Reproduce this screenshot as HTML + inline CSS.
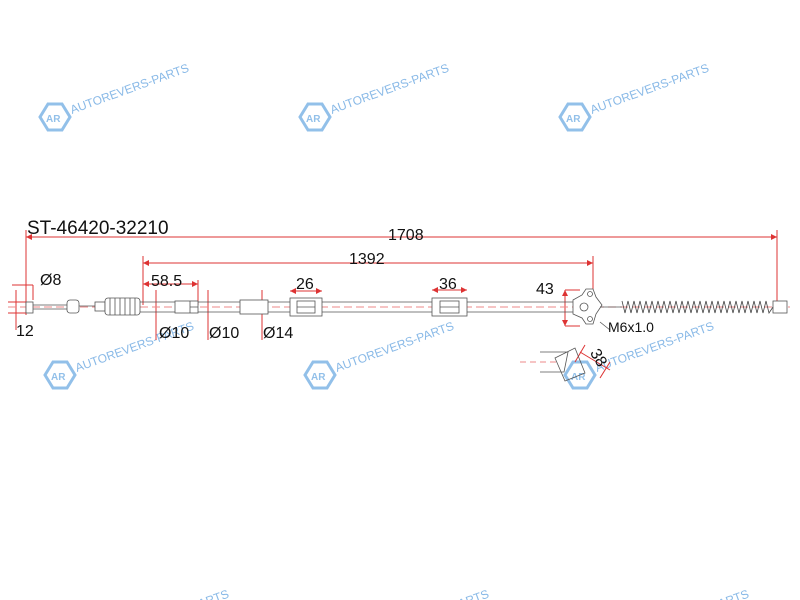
<!DOCTYPE html>
<html><head><style>html,body{margin:0;padding:0;background:#fff;overflow:hidden;width:800px;height:600px}svg{display:block}</style></head>
<body>
<svg width="800" height="600" viewBox="0 0 800 600" xmlns="http://www.w3.org/2000/svg" font-family="Liberation Sans, sans-serif">
<defs>
<clipPath id="cp"><rect x="0" y="0" width="800" height="600"/></clipPath>
<g id="wm">
<polygon points="8,0 22,0 30,13 22,26 8,26 0,13" fill="none" stroke="#7fb5e6" stroke-width="3"/>
<text x="6" y="18" font-size="10" fill="#7fb5e6" font-weight="bold">AR</text>
<text x="32" y="10" font-size="12" fill="#74ade3" transform="rotate(-20 32 10)">AUTOREVERS-PARTS</text>
</g>
</defs>
<g clip-path="url(#cp)">
<g opacity="0.85">
<use href="#wm" x="40" y="104"/><use href="#wm" x="300" y="104"/><use href="#wm" x="560" y="104"/>
<use href="#wm" x="45" y="362"/><use href="#wm" x="305" y="362"/><use href="#wm" x="565" y="362"/>
<use href="#wm" x="80" y="630"/><use href="#wm" x="340" y="630"/><use href="#wm" x="600" y="630"/>
</g>
<text x="27" y="234" font-size="19" fill="#111">ST-46420-32210</text>
<g stroke="#d33" stroke-width="1" fill="none">
<line x1="26" y1="237" x2="777" y2="237"/><line x1="26" y1="230" x2="26" y2="315"/><line x1="777" y1="230" x2="777" y2="305"/>
<line x1="143" y1="263" x2="593" y2="263"/><line x1="143" y1="256" x2="143" y2="305"/><line x1="593" y1="256" x2="593" y2="295"/>
<line x1="143" y1="284" x2="198" y2="284"/><line x1="198" y1="280" x2="198" y2="305"/>
<line x1="290" y1="291" x2="322" y2="291"/><line x1="432" y1="290" x2="467" y2="290"/>
<line x1="565" y1="290" x2="565" y2="326"/><line x1="565" y1="290" x2="580" y2="290"/><line x1="565" y1="326" x2="580" y2="326"/>
<line x1="12" y1="285" x2="33" y2="285"/><line x1="33" y1="285" x2="33" y2="300"/>
<line x1="16" y1="290" x2="16" y2="330"/><line x1="8" y1="302" x2="26" y2="302"/><line x1="8" y1="313" x2="26" y2="313"/>
<line x1="156" y1="290" x2="156" y2="340"/><line x1="208" y1="290" x2="208" y2="340"/><line x1="262" y1="290" x2="262" y2="340"/>
<line x1="8" y1="307" x2="790" y2="307" stroke-dasharray="8,4" stroke="#e88"/>
<line x1="520" y1="362" x2="560" y2="362" stroke-dasharray="6,4" stroke="#e88"/>
<line x1="580" y1="352" x2="610" y2="370"/><line x1="575" y1="362" x2="585" y2="345"/><line x1="600" y1="378" x2="610" y2="362"/>
</g>
<g fill="#d33">
<polygon points="26,237 32,234 32,240"/><polygon points="777,237 771,234 771,240"/>
<polygon points="143,263 149,260 149,266"/><polygon points="593,263 587,260 587,266"/>
<polygon points="143,284 149,281 149,287"/><polygon points="198,284 192,281 192,287"/>
<polygon points="290,291 296,288 296,294"/><polygon points="322,291 316,288 316,294"/>
<polygon points="432,290 438,287 438,293"/><polygon points="467,290 461,287 461,293"/>
<polygon points="565,290 562,296 568,296"/><polygon points="565,326 562,320 568,320"/>
</g>
<g stroke="#555" stroke-width="0.8" fill="#fff">
<rect x="26" y="302" width="7" height="11"/>
<line x1="33" y1="305" x2="67" y2="305"/><line x1="33" y1="309" x2="67" y2="309"/>
<rect x="67" y="300" width="12" height="13" rx="3"/>
<line x1="79" y1="306" x2="105" y2="306"/>
<rect x="95" y="302" width="10" height="9"/>
<rect x="105" y="298" width="35" height="17" rx="3"/>
<path d="M110 298v17M115 298v17M120 298v17M125 298v17M130 298v17M135 298v17" fill="none"/>
<line x1="140" y1="302" x2="575" y2="302"/><line x1="140" y1="312" x2="575" y2="312"/>
<rect x="175" y="301" width="23" height="12"/>
<path d="M190 301v12M190 307h8" fill="none"/>
<rect x="240" y="300" width="28" height="14"/>
<rect x="290" y="298" width="32" height="18"/><rect x="297" y="301" width="18" height="12"/><line x1="297" y1="307" x2="315" y2="307"/>
<rect x="432" y="298" width="35" height="18"/><rect x="440" y="301" width="19" height="12"/><line x1="440" y1="307" x2="459" y2="307"/>
<path d="M573 300 L582 295 L586 289 L593 289 L596 297 L602 305 L596 314 L593 324 L586 324 L582 318 L573 314 Z"/>
<circle cx="590" cy="294" r="2.5"/><circle cx="590" cy="319" r="2.5"/><circle cx="584" cy="307" r="4"/>
<line x1="600" y1="307" x2="622" y2="307"/>
<rect x="773" y="301" width="14" height="12"/>
<path d="M540 352h28l-4 20h-24M555 358l20-10 10 25-20 8z" fill="none"/>
</g>
<path d="M622 301 L625 313 L628 301 L631 313 L634 301 L637 313 L640 301 L643 313 L646 301 L649 313 L652 301 L655 313 L658 301 L661 313 L664 301 L667 313 L670 301 L673 313 L676 301 L679 313 L682 301 L685 313 L688 301 L691 313 L694 301 L697 313 L700 301 L703 313 L706 301 L709 313 L712 301 L715 313 L718 301 L721 313 L724 301 L727 313 L730 301 L733 313 L736 301 L739 313 L742 301 L745 313 L748 301 L751 313 L754 301 L757 313 L760 301 L763 313 L766 301 L769 313 L773 307" fill="none" stroke="#444" stroke-width="0.8"/>
<line x1="600" y1="322" x2="610" y2="330" stroke="#555" stroke-width="0.8"/>
<g font-size="16" fill="#111">
<text x="388" y="240">1708</text>
<text x="349" y="264">1392</text>
<text x="40" y="285">Ø8</text>
<text x="151" y="286">58.5</text>
<text x="296" y="289">26</text>
<text x="439" y="289">36</text>
<text x="536" y="294">43</text>
<text x="16" y="336">12</text>
<text x="159" y="338">Ø10</text>
<text x="209" y="338">Ø10</text>
<text x="263" y="338">Ø14</text>
<text x="608" y="332" font-size="14">M6x1.0</text>
<text x="590" y="362" transform="rotate(60 598 357)">38</text>
</g>
</g>
</svg>
</body></html>
